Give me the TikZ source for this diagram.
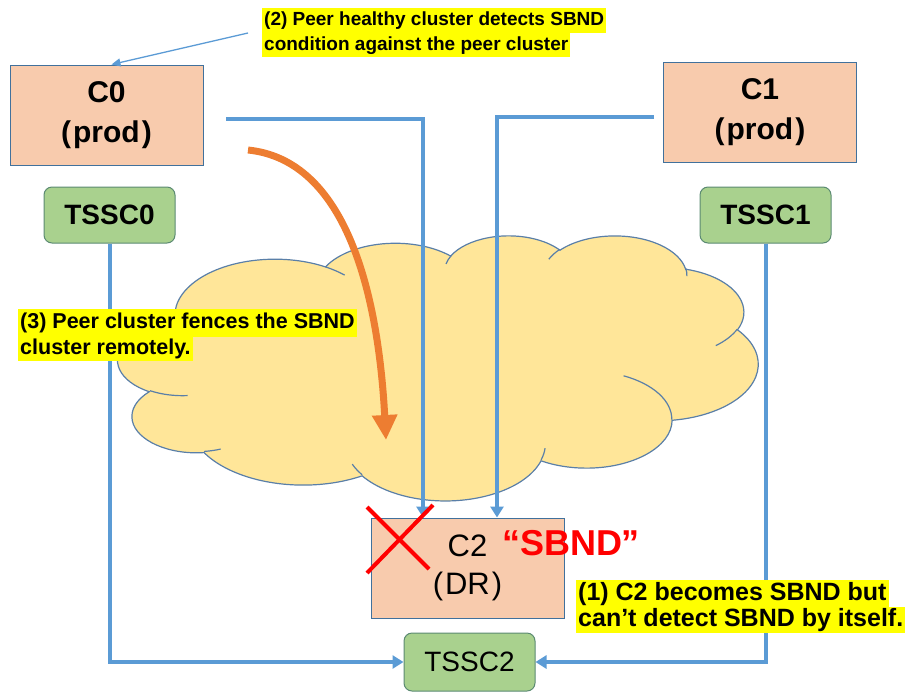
\documentclass[tikz,border=0pt]{standalone}
\usepackage{fontspec}
\setmainfont{Liberation Sans}
\usetikzlibrary{arrows.meta,calc}
\definecolor{peach}{HTML}{F8CBAD}
\definecolor{boxline}{HTML}{41719C}
\definecolor{tsgreen}{HTML}{A9D18E}
\definecolor{tsline}{HTML}{5B8A72}
\definecolor{connblue}{HTML}{5B9BD5}
\definecolor{cloudfill}{HTML}{FFE699}
\definecolor{cloudline}{HTML}{5A7FA8}
\definecolor{orangeA}{HTML}{ED7D31}
\definecolor{hl}{HTML}{FFFF00}
% convert an OOXML arcTo (visual angles) into parametric start / sweep
\newcommand\cldang[5]{%
  \pgfmathsetmacro\cldts{atan2(#2*sin(#4),#3*cos(#4))}%
  \pgfmathsetmacro\cldte{atan2(#2*sin(#4+#5),#3*cos(#4+#5))}%
  \pgfmathsetmacro\cldtd{mod(\cldte-\cldts+720,360)}%
  \expandafter\xdef\csname clds#1\endcsname{\cldts}%
  \expandafter\xdef\csname cldd#1\endcsname{\cldtd}%
}
\cldang{A}{6753}{9190}{-190.4875}{123.7805}
\cldang{B}{5333}{7267}{-144.1024}{89.9452}
\cldang{C}{4365}{5945}{-145.8079}{99.7230}
\cldang{D}{4857}{6595}{-130.9861}{117.2417}
\cldang{E}{5333}{7273}{-78.7089}{109.0269}
\cldang{F}{6775}{9220}{-46.2673}{130.2690}
\cldang{G}{5785}{7867}{0.6250}{114.0333}
\cldang{H}{6752}{9215}{22.4516}{115.1726}
\cldang{I}{7720}{10543}{66.2426}{75.7110}
\cldang{J}{4360}{5918}{-274.9421}{146.7356}
\cldang{K}{4345}{5945}{-246.8285}{152.5189}
\cldang{a}{4345}{5945}{86.7420}{26.4295}
\cldang{b}{4360}{5918}{73.6105}{11.4475}
\cldang{c}{6752}{9215}{137.6242}{14.0811}
\cldang{d}{6752}{9215}{6.4533}{15.9984}
\cldang{e}{5785}{7867}{-70.2924}{70.9174}
\cldang{f}{5333}{7273}{30.3180}{27.7515}
\cldang{g}{4857}{6595}{-13.7443}{14.8589}
\cldang{h}{4857}{6595}{-149.1815}{18.1954}
\cldang{i}{4365}{5945}{-163.4943}{17.6864}
\cldang{j}{6753}{9190}{-66.7070}{12.3194}
\cldang{k}{6753}{9190}{162.0402}{21.8969}
\begin{document}
\begin{tikzpicture}[x=1pt,y=1pt,
  cluster/.style={draw=boxline, line width=1pt, fill=peach, minimum width=193pt, minimum height=100pt, align=center, inner sep=0pt, font=\fontsize{30}{40}\selectfont},
  tssc/.style={draw=tsline, line width=1pt, fill=tsgreen, rounded corners=8pt, minimum width=131pt, minimum height=56pt, inner sep=0pt, font=\fontsize{28}{34}\selectfont},
  link/.style={draw=connblue, line width=4pt, -{Triangle[width=13pt,length=11pt]}},
  cloudedge/.style={draw=cloudline, line width=1.2pt},
  note/.style={fill=hl, inner xsep=2pt, inner ysep=0pt, anchor=north west, text=black, font=\bfseries}
]
\useasboundingbox (0,0) rectangle (909,-691);
\clip (0,0) rectangle (909,-691);

% cloud (PowerPoint cloud geometry, 4320 x 4320 units mapped onto its frame)
\begin{scope}[shift={(118pt,-235pt)}, x=0.148148pt, y=-0.061343pt]
\path[cloudedge, fill=cloudfill] (390,1437)
  arc[start angle=\cldsA, delta angle=\clddA, x radius=675.3, y radius=919]
  arc[start angle=\cldsB, delta angle=\clddB, x radius=533.3, y radius=726.7]
  arc[start angle=\cldsC, delta angle=\clddC, x radius=436.5, y radius=594.5]
  arc[start angle=\cldsD, delta angle=\clddD, x radius=485.7, y radius=659.5]
  arc[start angle=\cldsE, delta angle=\clddE, x radius=533.3, y radius=727.3]
  arc[start angle=\cldsF, delta angle=\clddF, x radius=677.5, y radius=922]
  arc[start angle=\cldsG, delta angle=\clddG, x radius=578.5, y radius=786.7]
  arc[start angle=\cldsH, delta angle=\clddH, x radius=675.2, y radius=921.5]
  arc[start angle=\cldsI, delta angle=\clddI, x radius=772, y radius=1054.3]
  arc[start angle=\cldsJ, delta angle=\clddJ, x radius=436, y radius=591.8]
  arc[start angle=\cldsK, delta angle=\clddK, x radius=434.5, y radius=594.5]
  -- cycle;
\draw[cloudedge] (469.3,2617.7) arc[start angle=\cldsa, delta angle=\cldda, x radius=434.5, y radius=594.5];
\draw[cloudedge] (692.8,3489.9) arc[start angle=\cldsb, delta angle=\clddb, x radius=436, y radius=591.8];
\draw[cloudedge] (1647.8,3909) arc[start angle=\cldsc, delta angle=\clddc, x radius=675.2, y radius=921.5];
\draw[cloudedge] (2882.7,3475.1) arc[start angle=\cldsd, delta angle=\clddd, x radius=675.2, y radius=921.5];
\draw[cloudedge] (3412.9,2295.4) arc[start angle=\cldse, delta angle=\cldde, x radius=578.5, y radius=786.7];
\draw[cloudedge] (4179.8,1535.4) arc[start angle=\cldsf, delta angle=\clddf, x radius=533.3, y radius=727.3];
\draw[cloudedge] (3832.4,542.6) arc[start angle=\cldsg, delta angle=\clddg, x radius=485.7, y radius=659.5];
\draw[cloudedge] (2907.8,395.2) arc[start angle=\cldsh, delta angle=\clddh, x radius=485.7, y radius=659.5];
\draw[cloudedge] (2214.1,472) arc[start angle=\cldsi, delta angle=\clddi, x radius=436.5, y radius=594.5];
\draw[cloudedge] (1400,519.2) arc[start angle=\cldsj, delta angle=\clddj, x radius=675.3, y radius=919];
\draw[cloudedge] (412.7,1578.9) arc[start angle=\cldsk, delta angle=\clddk, x radius=675.3, y radius=919];
\end{scope}

% boxes
\node[cluster, font=\fontsize{30}{40}\selectfont\bfseries] (C0) at (106.5,-115) {C0\\(\kern2pt prod\kern2pt)};
\node[cluster, font=\fontsize{30}{40}\selectfont\bfseries] (C1) at (760,-112) {C1\\(\kern2pt prod\kern2pt)};
\node[cluster, font=\fontsize{31}{38}\selectfont] (C2) at (467.5,-568) {C2\\(\kern2pt DR\kern2pt)};
\node[tssc, font=\fontsize{28}{34}\selectfont\bfseries] (T0) at (109.5,-215) {TSSC0};
\node[tssc, font=\fontsize{28}{34}\selectfont\bfseries] (T1) at (765.5,-215) {TSSC1};
\node[tssc, minimum height=58pt] (T2) at (469.5,-662) {TSSC2};

% connectors
\coordinate (c0out) at (226,-119);
\coordinate (c1out) at (654,-117);
\draw[link] (c0out) -| ([xshift=-44.5pt]C2.north);
\draw[link] (c1out) -| ([xshift=29.5pt]C2.north);
\draw[link] (T0.south) |- (T2.west);
\draw[link] (T1.south) |- (T2.east);

% callout arrow
\coordinate (co2) at (248,-33);
\draw[draw=connblue, line width=1.3pt, -{Triangle[width=8pt,length=9pt]}] (co2) -- ([xshift=5pt]C0.north);

% orange arrow
\coordinate (oS) at (248,-150);
\coordinate (oE) at (386,-440);
\draw[draw=orangeA, line width=7pt, -{Triangle[width=24pt,length=25pt]}] (oS) .. controls (345,-160) and (378,-290) .. (oE);

% red X and SBND
\draw[red, line width=4pt] (367,-507) -- (429,-569);
\draw[red, line width=4pt] (433,-505) -- (367,-573);
\node[text=red, font=\fontsize{36}{40}\selectfont\bfseries, inner sep=0pt] (sb) at (571,-543) {“SBND”};

% notes
\node[note, font=\bfseries\fontsize{19}{22}\selectfont, minimum height=25pt] (n2a) at (262,-8) {(2) Peer healthy cluster detects SBND};
\node[note, font=\bfseries\fontsize{19}{22}\selectfont, minimum height=24pt] (n2b) at (262,-33) {condition against the peer cluster};
\node[note, font=\bfseries\fontsize{21.5}{24}\selectfont, minimum height=28pt] (n3a) at (18,-309) {(3) Peer cluster fences the SBND};
\node[note, font=\bfseries\fontsize{21.5}{24}\selectfont, minimum height=24pt] (n3b) at (18,-337) {cluster remotely.};
\node[note, font=\bfseries\fontsize{25}{28}\selectfont, minimum height=27pt] (n1a) at (576,-580) {(1) C2 becomes SBND but};
\node[note, font=\bfseries\fontsize{25}{28}\selectfont, minimum height=26pt] (n1b) at (576,-607) {can’t detect SBND by itself.};
\end{tikzpicture}
\end{document}
